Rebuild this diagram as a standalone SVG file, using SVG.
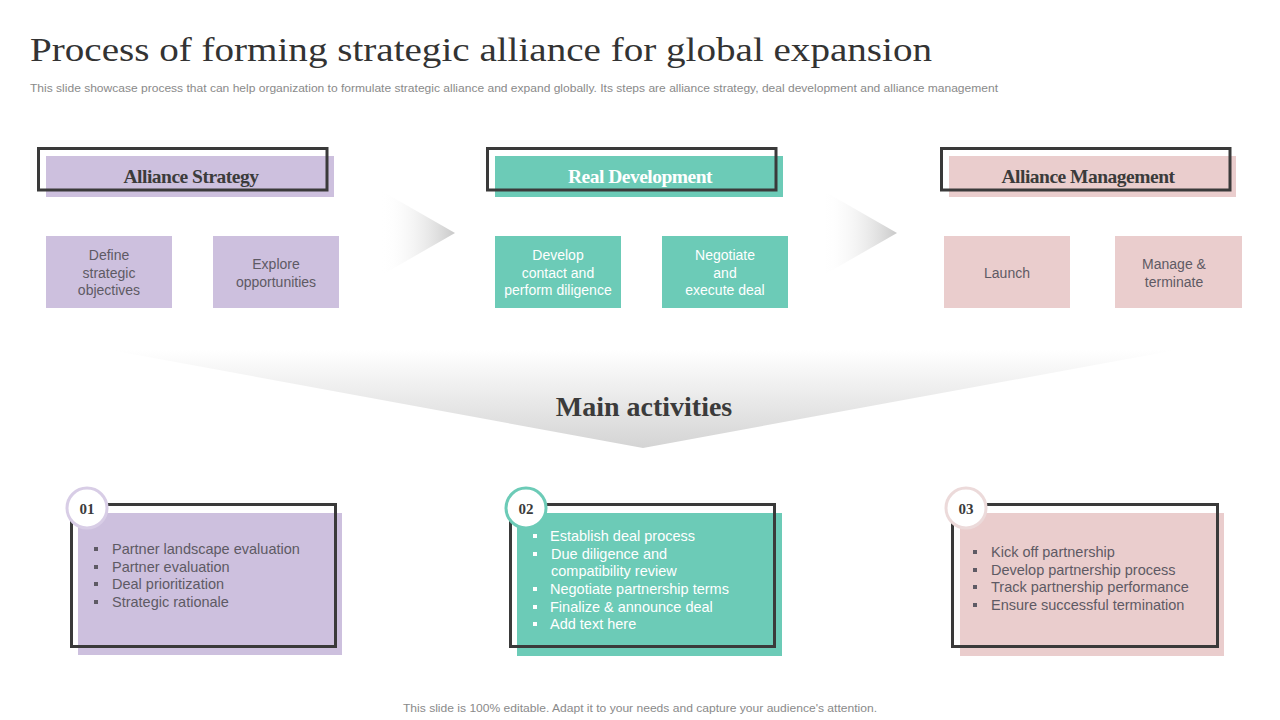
<svg xmlns="http://www.w3.org/2000/svg" width="1280" height="720" viewBox="0 0 1280 720">
<defs>
<linearGradient id="arrowGrad" x1="0" y1="0" x2="1" y2="0">
<stop offset="0" stop-color="#ffffff" stop-opacity="0"/>
<stop offset="1" stop-color="#c9c9c9"/>
</linearGradient>
<linearGradient id="funnelGrad" x1="0" y1="0" x2="0" y2="1">
<stop offset="0" stop-color="#ffffff"/>
<stop offset="1" stop-color="#d4d4d4"/>
</linearGradient>
</defs>
<style>
.title{font-family:"Liberation Serif","DejaVu Serif",serif;font-size:34px;fill:#333333}
.sub{font-family:"Liberation Sans",Arial,sans-serif;font-size:11px;fill:#8a8a8a}
.hdr{font-family:"Liberation Serif","DejaVu Serif",serif;font-size:19.5px;font-weight:bold;text-anchor:middle;letter-spacing:-0.5px}
.outline{fill:none;stroke:#3a3a3a;stroke-width:3}
.box{font-family:"Liberation Sans",Arial,sans-serif;font-size:14px;text-anchor:middle}
.bul{font-family:"Liberation Sans",Arial,sans-serif;font-size:14.5px}
.dark{fill:#5e5a64}
.white{fill:#ffffff}
.purple{fill:#cdc0de}
.teal{fill:#6ccbb7}
.pink{fill:#eacdcd}
.num{font-family:"Liberation Serif","DejaVu Serif",serif;font-size:15px;font-weight:bold;fill:#3b3b3b;text-anchor:middle}
.main{font-family:"Liberation Serif","DejaVu Serif",serif;font-size:28px;font-weight:bold;fill:#3b3b3b;text-anchor:middle}
</style>
<rect width="1280" height="720" fill="#ffffff"/>
<text class="title" x="30" y="61" textLength="902" lengthAdjust="spacingAndGlyphs">Process of forming strategic alliance for global expansion</text>
<text class="sub" x="30" y="92" textLength="968" lengthAdjust="spacingAndGlyphs">This slide showcase process that can help organization to formulate strategic alliance and expand globally. Its steps are alliance strategy, deal development and alliance management</text>

<g id="connectors">
<polygon points="380,190 455,233 380,276" fill="url(#arrowGrad)"/>
<polygon points="822,190 897,233 822,276" fill="url(#arrowGrad)"/>
<polygon id="funnel" points="110,350 1176,350 643,448" fill="url(#funnelGrad)"/>
</g>

<g id="hdr-alliance-strategy">
<rect class="purple" x="46" y="156" width="288" height="41"/>
<rect class="outline" x="38.5" y="148.5" width="288.5" height="41.5"/>
<text class="hdr" x="191" y="183" fill="#3b3b3b">Alliance Strategy</text>
</g>
<g id="hdr-real-development">
<rect class="teal" x="495" y="156" width="288" height="41"/>
<rect class="outline" x="487.5" y="148.5" width="288.5" height="41.5"/>
<text class="hdr" x="640" y="183" fill="#ffffff">Real Development</text>
</g>
<g id="hdr-alliance-management">
<rect class="pink" x="949" y="156" width="287" height="41"/>
<rect class="outline" x="941.5" y="148.5" width="288.5" height="41.5"/>
<text class="hdr" x="1088" y="183" fill="#3b3b3b">Alliance Management</text>
</g>

<g id="box-define">
<rect class="purple" x="46" y="236" width="126" height="72"/>
<text class="box dark" x="109"><tspan x="109" y="260">Define</tspan><tspan x="109" y="278">strategic</tspan><tspan x="109" y="295">objectives</tspan></text>
</g>
<g id="box-explore">
<rect class="purple" x="213" y="236" width="126" height="72"/>
<text class="box dark" x="276"><tspan x="276" y="269">Explore</tspan><tspan x="276" y="287">opportunities</tspan></text>
</g>
<g id="box-develop">
<rect class="teal" x="495" y="236" width="126" height="72"/>
<text class="box white" x="558"><tspan x="558" y="260">Develop</tspan><tspan x="558" y="278">contact and</tspan><tspan x="558" y="295">perform diligence</tspan></text>
</g>
<g id="box-negotiate">
<rect class="teal" x="662" y="236" width="126" height="72"/>
<text class="box white" x="725"><tspan x="725" y="260">Negotiate</tspan><tspan x="725" y="278">and</tspan><tspan x="725" y="295">execute deal</tspan></text>
</g>
<g id="box-launch">
<rect class="pink" x="944" y="236" width="126" height="72"/>
<text class="box dark" x="1007" y="278">Launch</text>
</g>
<g id="box-manage">
<rect class="pink" x="1115" y="236" width="127" height="72"/>
<text class="box dark" x="1174"><tspan x="1174" y="269">Manage &amp;</tspan><tspan x="1174" y="287">terminate</tspan></text>
</g>

<g id="main-activities">
<text class="main" x="644" y="416">Main activities</text>
</g>

<g id="card-01">
<rect class="purple" x="78" y="513" width="264" height="142"/>
<rect class="outline" x="71.5" y="504.5" width="264" height="142"/>
<circle cx="87" cy="508" r="20" fill="#ffffff" stroke="#d8cde6" stroke-width="3"/>
<text class="num" x="87" y="514">01</text>
<g class="dark">
<rect x="94" y="547" width="4" height="4"/><rect x="94" y="565" width="4" height="4"/><rect x="94" y="582" width="4" height="4"/><rect x="94" y="600" width="4" height="4"/>
</g>
<text class="bul dark"><tspan x="112" y="554">Partner landscape evaluation</tspan><tspan x="112" y="572">Partner evaluation</tspan><tspan x="112" y="589">Deal prioritization</tspan><tspan x="112" y="607">Strategic rationale</tspan></text>
</g>

<g id="card-02">
<rect class="teal" x="517" y="513" width="265" height="143"/>
<rect class="outline" x="510.5" y="504.5" width="264" height="142"/>
<circle cx="526" cy="508" r="20" fill="#ffffff" stroke="#6ccbb7" stroke-width="3"/>
<text class="num" x="526" y="514">02</text>
<g class="white">
<rect x="533" y="534" width="4" height="4"/><rect x="533" y="552" width="4" height="4"/><rect x="533" y="587" width="4" height="4"/><rect x="533" y="605" width="4" height="4"/><rect x="533" y="622" width="4" height="4"/>
</g>
<text class="bul white"><tspan x="550" y="541">Establish deal process</tspan><tspan x="551" y="559">Due diligence and</tspan><tspan x="551" y="576">compatibility review</tspan><tspan x="550" y="594">Negotiate partnership terms</tspan><tspan x="550" y="612">Finalize &amp; announce deal</tspan><tspan x="550" y="629">Add text here</tspan></text>
</g>

<g id="card-03">
<rect class="pink" x="960" y="513" width="264" height="143"/>
<rect class="outline" x="952.5" y="504.5" width="265" height="142"/>
<circle cx="966" cy="508" r="20" fill="#ffffff" stroke="#ecdada" stroke-width="3"/>
<text class="num" x="966" y="514">03</text>
<g class="dark">
<rect x="973" y="550" width="4" height="4"/><rect x="973" y="568" width="4" height="4"/><rect x="973" y="585" width="4" height="4"/><rect x="973" y="603" width="4" height="4"/>
</g>
<text class="bul dark"><tspan x="991" y="557">Kick off partnership</tspan><tspan x="991" y="575">Develop partnership process</tspan><tspan x="991" y="592">Track partnership performance</tspan><tspan x="991" y="610">Ensure successful termination</tspan></text>
</g>

<text class="sub" x="403" y="712" textLength="474" lengthAdjust="spacingAndGlyphs">This slide is 100% editable. Adapt it to your needs and capture your audience's attention.</text>
</svg>
